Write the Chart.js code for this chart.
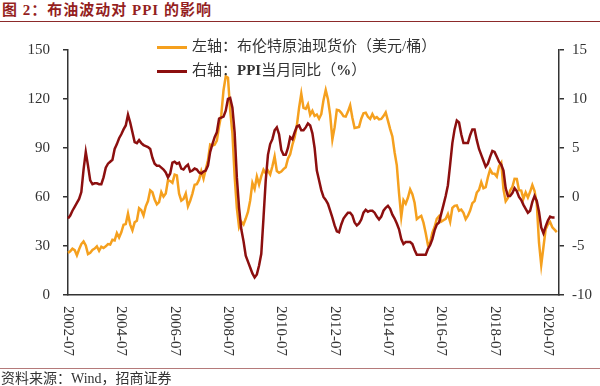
<!DOCTYPE html>
<html>
<head>
<meta charset="utf-8">
<script src="https://cdn.jsdelivr.net/npm/chart.js@4.4.0/dist/chart.umd.min.js"></script>
<style>
  body { margin: 0; width: 600px; height: 386px; background: #fff; position: relative; overflow: hidden;
         font-family: "Liberation Serif", "Noto Sans CJK SC", serif; color: #333; }
  #title { position: absolute; left: 0; top: 0; width: 600px; height: 22px; box-sizing: border-box;
           border-bottom: 1.5px solid #8c2a2a; color: #951f1f; font-weight: bold; font-size: 15px;
           line-height: 20px; padding-left: 2px; letter-spacing: 1px; }
  #chartBox { position: absolute; left: 0; top: 0; width: 600px; height: 386px; }
  #legend { position: absolute; left: 157px; top: 34px; font-size: 15px; line-height: 24px; color: #333; }
  .swatch { display: inline-block; width: 30px; height: 3px; vertical-align: middle; margin-right: 5px; }
  #source { position: absolute; left: 0; top: 368px; width: 600px; height: 18px; border-top: 1px solid #b57a7a;
            font-size: 14px; line-height: 20px; padding-left: 1px; color: #333; }
</style>
</head>
<body>
<div id="title">图 2：布油波动对 PPI 的影响</div>
<div id="chartBox"><canvas id="chart" width="600" height="386"></canvas></div>
<div id="legend">
  <div><span class="swatch" style="background:#f5a01e"></span>左轴：布伦特原油现货价（美元/桶）</div>
  <div><span class="swatch" style="background:#8c0f0f"></span>右轴：<b>PPI</b>当月同比（<b>%</b>）</div>
</div>
<div id="source">资料来源：Wind，招商证券</div>
<script>
// Monthly categories 2002-07 .. 2020-12
const months = [];
for (let y = 2002, m = 7; y < 2021; m++) {
    if (m > 12) { m = 1; y++; if (y > 2020) break; }
    months.push(y + '-' + String(m).padStart(2, '0'));
}
const tickLabels = ['2002-07', '2004-07', '2006-07', '2008-07', '2010-07',
                    '2012-07', '2014-07', '2016-07', '2018-07', '2020-07'];

// Brent spot, USD/bbl (left axis)
const brent = [
    25.8, 26.7, 28.4, 27.5, 24.3, 28.0,
    31.2, 32.8, 30.3, 25.0, 25.8, 27.6, 28.4, 29.8, 27.1, 29.6, 28.8, 29.8,
    31.2, 30.9, 33.8, 33.4, 37.9, 35.2, 38.4, 43.0, 43.4, 49.8, 43.1, 39.6,
    44.5, 45.5, 53.1, 51.9, 48.7, 54.3, 57.5, 64.1, 62.9, 58.5, 55.5, 56.9,
    63.0, 60.2, 62.1, 70.3, 69.8, 68.7, 73.7, 73.2, 62.0, 57.8, 58.8, 62.1,
    54.3, 57.6, 62.1, 67.5, 67.9, 70.6, 75.8, 71.2, 77.0, 82.5, 92.1, 91.5,
    92.0, 94.5, 103.3, 110.4, 125.4, 133.9, 133.0, 113.2, 99.0, 72.8, 53.2, 41.6,
    44.9, 43.2, 46.8, 50.8, 57.9, 68.6, 64.9, 72.5, 67.7, 72.8, 76.7, 74.5,
    76.2, 73.8, 78.8, 84.8, 75.9, 74.8, 75.6, 77.1, 78.2, 83.5, 86.1, 92.0,
    96.5, 103.7, 114.6, 123.3, 114.5, 113.9, 116.7, 110.4, 112.8, 109.6, 110.5, 107.9,
    110.7, 119.3, 125.5, 119.8, 110.3, 95.2, 102.6, 113.4, 113.0, 111.5, 109.5, 109.2,
    112.3, 116.1, 108.5, 102.3, 102.6, 102.9, 107.9, 111.3, 111.6, 109.1, 107.8, 110.8,
    108.1, 108.9, 107.5, 107.8, 109.5, 111.8, 106.8, 101.6, 97.1, 87.4, 79.4, 62.3,
    47.8, 58.1, 55.9, 59.5, 64.6, 61.7, 56.5, 46.5, 47.6, 48.4, 44.3, 38.0,
    30.7, 32.2, 38.2, 41.6, 46.7, 48.3, 44.9, 45.8, 46.6, 49.5, 44.8, 53.3,
    54.6, 54.9, 51.6, 52.3, 50.3, 46.4, 48.5, 51.7, 56.2, 57.5, 62.7, 64.4,
    69.1, 65.3, 66.0, 72.1, 76.8, 74.4, 74.3, 72.5, 78.9, 81.0, 64.8, 57.4,
    59.4, 64.0, 66.1, 71.2, 71.1, 64.2, 63.9, 59.0, 62.8, 59.7, 63.2, 67.3,
    63.7, 55.7, 32.0, 18.4, 29.4, 40.3, 43.2, 44.7, 41.5, 40.0, 38.5, null
];

// PPI YoY, % (right axis)
const ppi = [
    -2.2, -1.9, -1.4, -1.0, -0.6, -0.2,
    0.5, 2.8, 4.6, 3.2, 1.7, 1.3, 1.4, 1.4, 1.3, 1.3, 2.0, 3.0,
    3.4, 3.6, 3.8, 4.9, 5.4, 6.0, 6.4, 6.9, 7.3, 8.4, 7.6, 6.6,
    5.6, 5.5, 5.8, 5.5, 5.3, 5.2, 5.1, 4.9, 4.0, 3.4, 3.2, 3.2,
    3.0, 2.8, 2.5, 2.0, 2.4, 3.5, 3.6, 3.4, 3.5, 2.9, 2.8, 3.1,
    3.3, 2.6, 2.7, 2.9, 2.8, 2.5, 2.4, 2.6, 2.7, 3.2, 4.6, 5.4,
    6.1, 6.6, 8.0, 8.1, 8.2, 8.8, 10.0, 10.1, 9.1, 6.6, 2.0, -1.1,
    -3.3, -4.5, -6.0, -6.6, -7.2, -7.8, -8.2, -7.9, -7.0, -5.8, -2.1, 1.7,
    4.3, 5.4, 5.9, 6.8, 7.1, 6.4, 4.8, 4.3, 4.3, 5.0, 6.1, 5.9,
    6.6, 7.2, 7.3, 6.8, 6.8, 7.1, 7.5, 7.3, 6.5, 5.0, 2.7, 1.7,
    0.7, 0.0, -0.3, -0.7, -1.4, -2.1, -2.9, -3.5, -3.6, -2.8, -2.2, -1.9,
    -1.6, -1.6, -1.9, -2.6, -2.9, -2.7, -2.3, -1.6, -1.3, -1.5, -1.4, -1.4,
    -1.6, -2.0, -2.3, -2.0, -1.4, -1.1, -0.9, -1.2, -1.8, -2.2, -2.7, -3.3,
    -4.3, -4.8, -4.6, -4.6, -4.6, -4.8, -5.4, -5.9, -5.9, -5.9, -5.9, -5.9,
    -5.3, -4.9, -4.3, -3.4, -2.8, -2.6, -1.7, -0.8, 0.1, 1.2, 3.3, 5.5,
    6.9, 7.8, 7.6, 6.4, 5.5, 5.5, 5.5, 6.3, 6.9, 6.9, 5.8, 4.9,
    4.3, 3.7, 3.1, 3.4, 4.1, 4.7, 4.6, 4.1, 3.6, 3.3, 2.7, 0.9,
    0.1, 0.1, 0.4, 0.9, 0.6, 0.0, -0.3, -0.8, -1.2, -1.6, -1.4, -0.5,
    0.1, -0.4, -1.5, -3.1, -3.7, -3.0, -2.4, -2.0, -2.1, -2.1, null, null
];

const tickFont = { family: 'Liberation Serif', size: 15 };
const axisColor = '#333';

// x labels read top-to-bottom, so they are drawn here instead of by the scale
const xLabelPlugin = {
    id: 'xLabels',
    afterDraw(chart) {
        const { ctx, scales: { x } } = chart;
        ctx.save();
        ctx.font = '15px "Liberation Serif"';
        ctx.fillStyle = axisColor;
        ctx.textAlign = 'left';
        ctx.textBaseline = 'middle';
        months.forEach((m, i) => {
            if (!tickLabels.includes(m)) return;
            ctx.save();
            ctx.translate(x.getPixelForValue(i), x.top + 11);
            ctx.rotate(Math.PI / 2);
            ctx.fillText(m, 0, 0);
            ctx.restore();
        });
        ctx.restore();
    }
};

new Chart(document.getElementById('chart'), {
    type: 'line',
    data: {
        labels: months,
        datasets: [{
            label: '右轴：PPI当月同比（%）',
            data: ppi,
            yAxisID: 'y1',
            borderColor: '#8c0f0f',
            borderWidth: 2.5,
            pointRadius: 0,
            order: 0
        }, {
            label: '左轴：布伦特原油现货价（美元/桶）',
            data: brent,
            yAxisID: 'y',
            borderColor: '#f5a01e',
            borderWidth: 2.5,
            pointRadius: 0,
            order: 1
        }]
    },
    options: {
        responsive: false,
        animation: false,
        layout: { padding: { top: 50, left: 0, right: 0, bottom: 0 } },
        plugins: { legend: { display: false }, tooltip: { enabled: false } },
        scales: {
            x: {
                type: 'category',
                offset: false,
                grid: { display: false },
                border: { display: true, color: axisColor, width: 1.5 },
                ticks: { display: false },
                afterFit(s) { s.height = 91; }
            },
            y: {
                position: 'left',
                min: 0, max: 150,
                ticks: { stepSize: 30, font: tickFont, color: axisColor, padding: 13 },
                grid: { drawOnChartArea: false, tickLength: 5, color: axisColor, lineWidth: 1.5 },
                border: { color: axisColor, width: 1.5 },
                afterFit(s) { s.width = 68; }
            },
            y1: {
                position: 'right',
                min: -10, max: 15,
                ticks: { stepSize: 5, font: tickFont, color: axisColor, padding: 8 },
                grid: { drawOnChartArea: false, tickLength: 5, color: axisColor, lineWidth: 1.5 },
                border: { color: axisColor, width: 1.5 },
                afterFit(s) { s.width = 41; }
            }
        }
    },
    plugins: [xLabelPlugin]
});
</script>
</body>
</html>
